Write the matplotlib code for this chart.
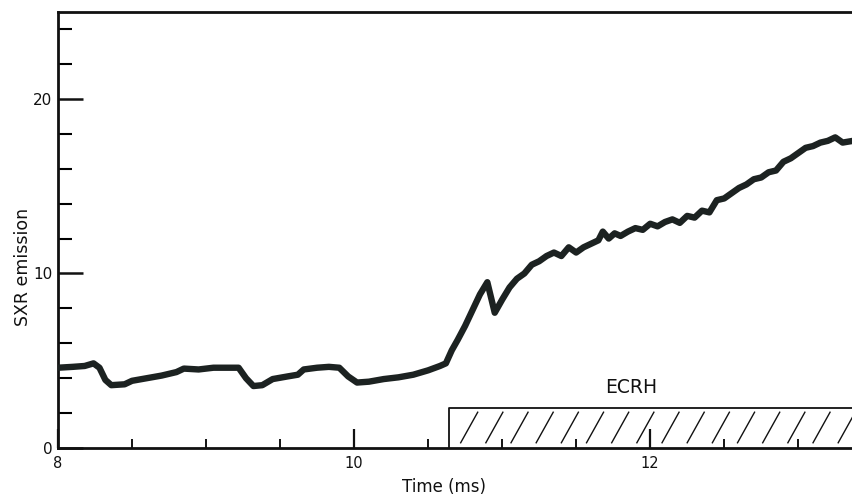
import numpy as np
import matplotlib
matplotlib.use("Agg")
import matplotlib.pyplot as plt
from matplotlib.ticker import MultipleLocator, FixedLocator, FixedFormatter

# Soft X-ray emission trace (time in ms, emission in arbitrary units)
time_ms = [8.00, 8.10, 8.18, 8.24, 8.28, 8.32, 8.36, 8.45, 8.50, 8.60,
           8.70, 8.80, 8.85, 8.95, 9.05, 9.15, 9.22, 9.27, 9.32, 9.38,
           9.45, 9.55, 9.62, 9.66, 9.75, 9.83, 9.90, 9.96, 10.02, 10.10,
           10.20, 10.30, 10.40, 10.50, 10.58, 10.62, 10.66, 10.70, 10.75, 10.80,
           10.85, 10.90, 10.95, 11.00, 11.05, 11.10, 11.15, 11.20, 11.25, 11.30,
           11.35, 11.40, 11.45, 11.50, 11.55, 11.60, 11.65, 11.68, 11.72, 11.76,
           11.80, 11.85, 11.90, 11.95, 12.00, 12.05, 12.10, 12.15, 12.20, 12.25,
           12.30, 12.35, 12.40, 12.45, 12.50, 12.55, 12.60, 12.65, 12.70, 12.75,
           12.80, 12.85, 12.90, 12.95, 13.00, 13.05, 13.10, 13.15, 13.20, 13.25,
           13.30, 13.37]
sxr = [4.60, 4.65, 4.70, 4.85, 4.60, 3.90, 3.60, 3.65, 3.85, 4.00,
       4.15, 4.35, 4.55, 4.50, 4.60, 4.60, 4.60, 4.00, 3.55, 3.60,
       3.95, 4.10, 4.20, 4.50, 4.60, 4.65, 4.60, 4.10, 3.75, 3.80,
       3.95, 4.05, 4.20, 4.45, 4.70, 4.85, 5.60, 6.20, 7.00, 7.90,
       8.80, 9.50, 7.75, 8.50, 9.20, 9.70, 10.00, 10.50, 10.70, 11.00,
       11.20, 11.00, 11.50, 11.20, 11.50, 11.70, 11.90, 12.40, 12.00, 12.30,
       12.15, 12.40, 12.60, 12.50, 12.85, 12.70, 12.95, 13.10, 12.90, 13.30,
       13.20, 13.60, 13.50, 14.20, 14.30, 14.60, 14.90, 15.10, 15.40, 15.50,
       15.80, 15.90, 16.40, 16.60, 16.90, 17.20, 17.30, 17.50, 17.60, 17.80,
       17.50, 17.60]

# ECRH heating window
ecrh_start = 10.64
ecrh_end = 13.35
ecrh_level = 2.3
ecrh_label = "ECRH"

x_limits = (8.0, 13.37)
y_limits = (0.0, 25.0)
x_major = [8, 10, 12]
x_major_labels = ["8", "10", "12"]
y_major = [0, 10, 20]
y_major_labels = ["0", "10", "20"]

W, H = 853, 504
fig = plt.figure(figsize=(W / 100, H / 100), dpi=100)
fig.patch.set_facecolor("white")
ax = fig.add_axes([58 / W, (H - 448) / H, (W - 58) / W, (448 - 11.7) / H])

ink = "#111111"
trace_col = "#1c2221"

ax.plot(time_ms, sxr, color=trace_col, lw=4.6, solid_joinstyle="round",
        solid_capstyle="round", zorder=3)

# ECRH box with sparse diagonal hatching
ax.plot([ecrh_start, ecrh_start, ecrh_end + 0.05], [0, ecrh_level, ecrh_level],
        color=ink, lw=1.3, clip_on=False, zorder=2)
spacing = 0.17
slant = 0.115
lo, hi = 0.3, ecrh_level - 0.25
for xs in np.arange(ecrh_start + 0.08, ecrh_end, spacing):
    ax.plot([xs, xs + slant], [lo, hi], color=ink, lw=1.0, zorder=2)
ax.text((ecrh_start + ecrh_end) / 2 - 0.12, ecrh_level + 0.6, ecrh_label,
        ha="center", va="bottom", fontsize=13.5, color=ink)

ax.set_xlim(*x_limits)
ax.set_ylim(*y_limits)

for side in ("left", "bottom", "top"):
    ax.spines[side].set_linewidth(2.0)
    ax.spines[side].set_color(ink)
ax.spines["right"].set_visible(False)

ax.xaxis.set_major_locator(FixedLocator(x_major))
ax.xaxis.set_major_formatter(FixedFormatter(x_major_labels))
ax.xaxis.set_minor_locator(MultipleLocator(0.5))
ax.yaxis.set_major_locator(FixedLocator(y_major))
ax.yaxis.set_major_formatter(FixedFormatter(y_major_labels))
ax.yaxis.set_minor_locator(MultipleLocator(2))

ax.tick_params(axis="x", which="major", direction="in", length=14, width=1.6,
               pad=6, labelsize=10.5, colors=ink, top=False)
ax.tick_params(axis="x", which="minor", direction="in", length=6.5, width=1.3,
               top=False)
ax.tick_params(axis="y", which="major", direction="in", length=18, width=1.8,
               pad=4, labelsize=11, colors=ink, right=False)
ax.tick_params(axis="y", which="minor", direction="in", length=10, width=1.5,
               right=False)

ax.set_xlabel("Time (ms)", fontsize=12, color=ink)
ax.xaxis.set_label_coords((444 - 58) / (W - 58), -(478 - 448) / (448 - 11.7))
ax.set_ylabel("SXR emission", fontsize=12.5, color=ink)
ax.yaxis.set_label_coords(-(58 - 32) / (W - 58), (448 - 267) / (448 - 11.7))

fig.savefig("out.png", dpi=100, facecolor="white")
